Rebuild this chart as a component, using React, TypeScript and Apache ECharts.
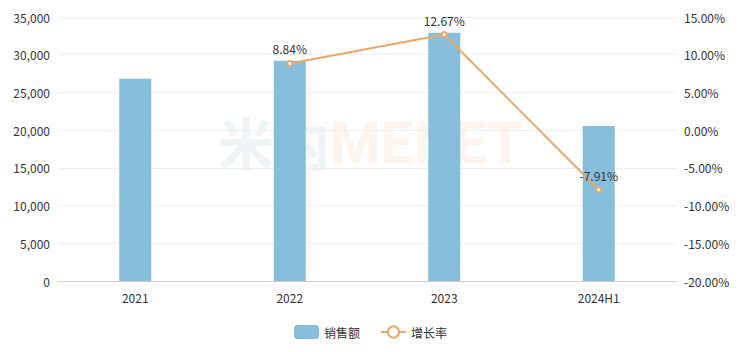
import React, { useEffect, useRef } from "react";
import * as echarts from "echarts";

const categories = ["2021", "2022", "2023", "2024H1"];
const salesValues = [26800, 29200, 32900, 20550];
const growthValues: (number | null)[] = [null, 8.84, 12.67, -7.91];
const salesName = "销售额";
const growthName = "增长率";

export default function App() {
  const ref = useRef<HTMLDivElement>(null);
  useEffect(() => {
    if (!ref.current) return;
    document.body.style.margin = "0";
    const chart = echarts.init(ref.current, null, { renderer: "svg" });
    chart.setOption({
      animation: false,
      textStyle: { fontFamily: "'Noto Sans CJK SC', 'Noto Sans', sans-serif" },
      graphic: [
        {
          type: "text",
          left: 218,
          top: 112,
          style: {
            text: "米内",
            fontSize: 56,
            fontWeight: "bold",
            fill: "rgba(200,215,225,0.3)",
            fontFamily: "'Noto Sans CJK SC', sans-serif",
          },
          z: -1,
        },
        {
          type: "text",
          left: 330,
          top: 114,
          style: {
            text: "MENET",
            fontSize: 58,
            fontWeight: "bold",
            fill: "rgba(250,220,195,0.3)",
            fontFamily: "Roboto, sans-serif",
          },
          z: -1,
        },
      ],
      grid: { left: 58, right: 65, top: 17, bottom: 71 },
      legend: {
        bottom: 8,
        left: "center",
        itemWidth: 25,
        itemHeight: 14,
        itemGap: 20,
        textStyle: { color: "#333", fontSize: 12 },
        data: [salesName, growthName],
      },
      xAxis: {
        type: "category",
        data: categories,
        axisTick: { show: false },
        axisLine: { lineStyle: { color: "#ccc" } },
        axisLabel: { color: "#333", fontSize: 12, margin: 10 },
      },
      yAxis: [
        {
          type: "value",
          min: 0,
          max: 35000,
          interval: 5000,
          axisLabel: {
            color: "#333",
            fontSize: 12,
            formatter: (v: number) => v.toLocaleString("en-US"),
          },
          splitLine: { lineStyle: { color: "#eee" } },
          axisLine: { show: false },
          axisTick: { show: false },
        },
        {
          type: "value",
          min: -20,
          max: 15,
          interval: 5,
          axisLabel: {
            color: "#333",
            fontSize: 12,
            formatter: (v: number) => v.toFixed(2) + "%",
          },
          splitLine: { lineStyle: { color: "#eee" } },
          axisLine: { show: false },
          axisTick: { show: false },
        },
      ],
      series: [
        {
          name: salesName,
          type: "bar",
          data: salesValues,
          barWidth: 32,
          itemStyle: { color: "#86BEDB" },
        },
        {
          name: growthName,
          type: "line",
          yAxisIndex: 1,
          data: growthValues,
          symbol: "emptyCircle",
          symbolSize: 5,
          lineStyle: { color: "#E8A96A", width: 2 },
          itemStyle: { color: "#E8A96A" },
          label: {
            show: true,
            position: "top",
            color: "#333",
            fontSize: 12,
            formatter: (p: any) => p.value.toFixed(2) + "%",
          },
        },
      ],
    });
    return () => chart.dispose();
  }, []);
  return <div ref={ref} style={{ width: 741, height: 352 }} />;
}
